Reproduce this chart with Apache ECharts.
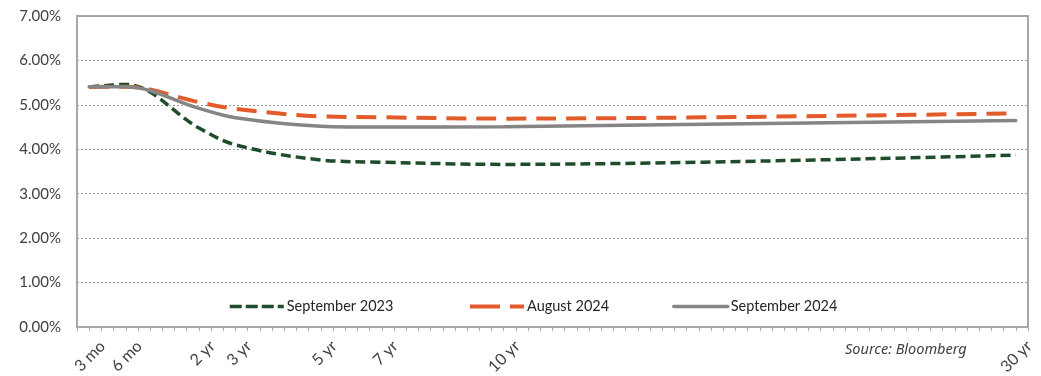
<!DOCTYPE html>
<html>
<head>
<meta charset="utf-8">
<script src="https://cdn.jsdelivr.net/npm/echarts@6/dist/echarts.min.js"></script>
<style>
  html, body { margin: 0; padding: 0; background: #ffffff; }
  #chart { width: 1041px; height: 376px; }
</style>
</head>
<body>
<div id="chart"></div>
<script>
// Maturity axis: tenor labels and the slot each tenor occupies on the axis
const tenorLabels = ['3 mo', '6 mo', '2 yr', '3 yr', '5 yr', '7 yr', '10 yr', '30 yr'];
const tenorSlots = [1, 4, 10, 13, 20, 25, 35, 77];
const axisSlotCount = 78;

// Treasury yields (%) at each tenor
const sep2023 = [5.40, 5.46, 4.48, 4.10, 3.76, 3.71, 3.66, 3.87];
const aug2024 = [5.40, 5.41, 5.06, 4.91, 4.74, 4.72, 4.69, 4.81];
const sep2024 = [5.41, 5.41, 4.92, 4.71, 4.52, 4.50, 4.51, 4.65];

const seriesNames = ['September 2023', 'August 2024', 'September 2024'];
const yMin = 0, yMax = 7, yStep = 1;
const sourceNote = 'Source: Bloomberg';

const FONT = 'Lato, "Noto Sans", sans-serif';
const labelBySlot = {};
tenorSlots.forEach((s, i) => { labelBySlot[s] = tenorLabels[i]; });

const toPoints = vals => vals.map((v, i) => [tenorSlots[i], v]);

const styles = [
  { color: '#1f4d2b', width: 3.5, type: [10, 5], cap: 'butt', legendType: [12, 4] },
  { color: '#e25b2b', width: 4, type: [20, 10], cap: 'butt', legendType: [30, 10] },
  { color: '#858585', width: 3.5, type: 'solid', cap: 'round', legendType: 'solid' }
];
const dataSets = [sep2023, aug2024, sep2024];

const chart = echarts.init(document.getElementById('chart'), null, { renderer: 'canvas' });

const legendLefts = [228, 468, 672];

chart.setOption({
  animation: false,
  backgroundColor: '#ffffff',
  grid: {
    left: 77, right: 13, top: 16, bottom: 49,
    outerBoundsMode: 'none',
    containLabel: false,
    show: true, borderColor: '#a8a8a8', borderWidth: 2
  },
  legend: seriesNames.map((name, i) => ({
    data: [name],
    left: legendLefts[i],
    top: 299,
    padding: 0,
    itemWidth: 54,
    itemHeight: 14,
    itemGap: 0,
    itemStyle: { opacity: 0 },
    lineStyle: { type: styles[i].legendType, width: styles[i].width },
    textStyle: { fontFamily: FONT, fontSize: 14.5, color: '#262626', padding: [0, 0, 0, -2] }
  })),
  xAxis: {
    type: 'value',
    min: 0,
    max: axisSlotCount,
    interval: 1,
    axisLine: { show: true, lineStyle: { color: '#a8a8a8', width: 2 } },
    axisTick: { show: true, length: 4, lineStyle: { color: '#a8a8a8', width: 1 } },
    splitLine: { show: false },
    axisLabel: {
      show: true,
      rotate: 45,
      margin: 30,
      padding: [0, -19, 0, 0],
      fontFamily: FONT,
      fontSize: 16,
      color: '#404040',
      showMinLabel: true,
      showMaxLabel: true,
      formatter: v => labelBySlot[v] || ''
    }
  },
  yAxis: {
    type: 'value',
    min: yMin,
    max: yMax,
    interval: yStep,
    axisLine: { show: true, lineStyle: { color: '#a8a8a8', width: 2 } },
    axisTick: { show: false },
    splitLine: { show: true, lineStyle: { color: '#9a9a9a', width: 1, type: [2, 2] } },
    axisLabel: {
      margin: 16,
      fontFamily: FONT,
      fontSize: 15,
      color: '#404040',
      formatter: v => v.toFixed(2) + '%'
    }
  },
  series: seriesNames.map((name, i) => ({
    name,
    type: 'line',
    data: toPoints(dataSets[i]),
    smooth: 0.35,
    showSymbol: false,
    symbol: 'none',
    color: styles[i].color,
    lineStyle: {
      color: styles[i].color,
      width: styles[i].width,
      type: styles[i].type,
      cap: styles[i].cap
    },
    z: 2 + i
  })),
  graphic: [{
    type: 'text',
    left: 845,
    top: 342,
    style: {
      text: sourceNote,
      font: 'italic 14.5px "Noto Sans", sans-serif',
      fill: '#404040'
    }
  }]
});
</script>
</body>
</html>
